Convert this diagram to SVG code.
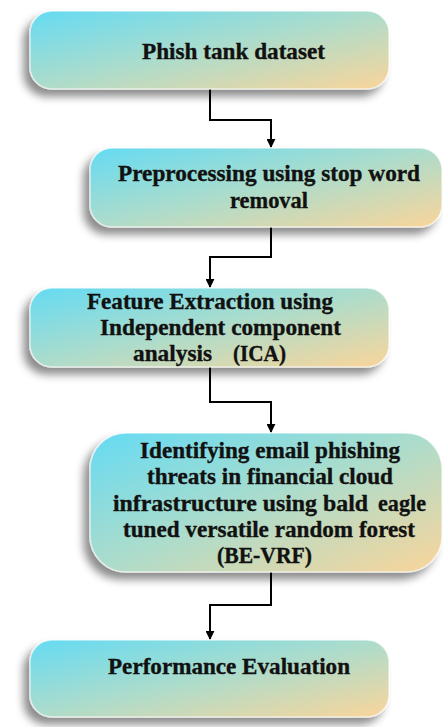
<svg xmlns="http://www.w3.org/2000/svg" width="443" height="727" viewBox="0 0 443 727">
<style>
.box{fill:url(#g);stroke:#ffffff;stroke-opacity:0.6;stroke-width:1.5;filter:url(#sh)}
.t{font-family:"Liberation Serif","Times New Roman",serif;font-weight:bold;font-size:23px;fill:#111;stroke:#111;stroke-width:0.35}
.c{fill:none;stroke:#000;stroke-width:2}
</style>
<defs>
<linearGradient id="g" x1="0" y1="0" x2="1" y2="1">
<stop offset="0" stop-color="#64DBF3"/>
<stop offset="0.5" stop-color="#ADDCCB"/>
<stop offset="1" stop-color="#FAD59A"/>
</linearGradient>
<filter id="sh" x="-10%" y="-20%" width="120%" height="150%">
<feDropShadow dx="-6" dy="7" stdDeviation="4" flood-color="#000" flood-opacity="0.45"/>
</filter>
<marker id="a" viewBox="0 0 10 10" refX="9" refY="5" markerWidth="9" markerHeight="9" markerUnits="userSpaceOnUse" orient="auto">
<path d="M0,0 L10,5 L0,10 Z" fill="#000"/>
</marker>
</defs>
<g id="connectors">
<path class="c" d="M210 89 V120 H271 V147" marker-end="url(#a)"/>
<path class="c" d="M271 227 V257 H210 V287" marker-end="url(#a)"/>
<path class="c" d="M210 367 V402 H271 V432" marker-end="url(#a)"/>
<path class="c" d="M271 572 V605 H210 V639" marker-end="url(#a)"/>
</g>
<g id="n1">
<rect class="box" x="30" y="11" width="359" height="78" rx="22"/>
<text class="t" x="142" y="59" textLength="183" lengthAdjust="spacingAndGlyphs">Phish tank dataset</text>
</g>
<g id="n2">
<rect class="box" x="90" y="148" width="352" height="79" rx="22"/>
<text class="t" x="118" y="181" textLength="302" lengthAdjust="spacingAndGlyphs">Preprocessing using stop word</text>
<text class="t" x="230" y="208" textLength="78" lengthAdjust="spacingAndGlyphs">removal</text>
</g>
<g id="n3">
<rect class="box" x="30" y="288" width="359" height="79" rx="22"/>
<text class="t" x="87" y="309" textLength="246" lengthAdjust="spacingAndGlyphs">Feature Extraction using</text>
<text class="t" x="100" y="335" textLength="241" lengthAdjust="spacingAndGlyphs">Independent component</text>
<text class="t" x="133" y="361" textLength="79" lengthAdjust="spacingAndGlyphs">analysis</text>
<text class="t" x="233" y="361" textLength="53" lengthAdjust="spacingAndGlyphs">(ICA)</text>
</g>
<g id="n4">
<rect class="box" x="90" y="433" width="352" height="139" rx="36"/>
<text class="t" x="140" y="458" textLength="260" lengthAdjust="spacingAndGlyphs">Identifying email phishing</text>
<text class="t" x="147" y="484" textLength="246" lengthAdjust="spacingAndGlyphs">threats in financial cloud</text>
<text class="t" x="113" y="511" textLength="255" lengthAdjust="spacingAndGlyphs">infrastructure using bald</text>
<text class="t" x="378" y="511" textLength="48" lengthAdjust="spacingAndGlyphs">eagle</text>
<text class="t" x="123" y="537" textLength="292" lengthAdjust="spacingAndGlyphs">tuned versatile random forest</text>
<text class="t" x="217" y="563" textLength="95" lengthAdjust="spacingAndGlyphs">(BE-VRF)</text>
</g>
<g id="n5">
<rect class="box" x="30" y="640" width="359" height="77" rx="22"/>
<text class="t" x="108" y="674" textLength="242" lengthAdjust="spacingAndGlyphs">Performance Evaluation</text>
</g>
</svg>
